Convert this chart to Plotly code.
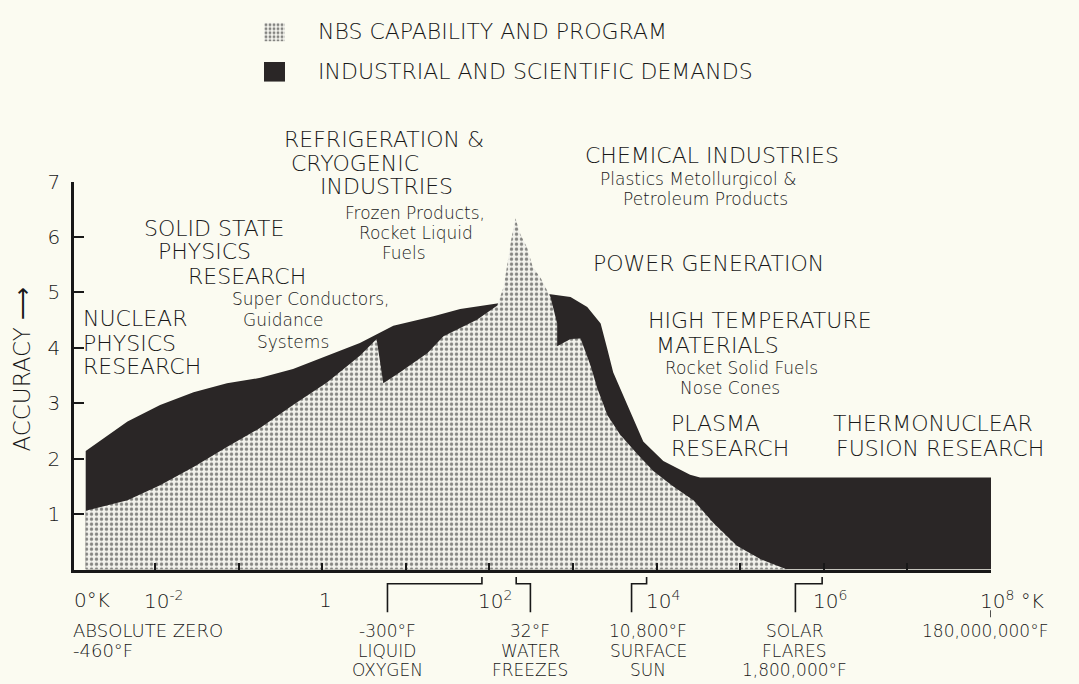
import plotly.graph_objects as go

# ---------------- data (x = log10 of temperature in K, y = accuracy) ----------------
demand_logk = [-2.83, -2.33, -1.94, -1.54, -1.14, -0.74, -0.35, 0.06, 0.45, 0.85,
               1.33, 1.65, 2.09, 2.73, 2.97, 3.17, 3.33, 3.41, 3.48, 3.65,
               3.84, 4.08, 4.40, 4.52, 8.0]
demand_acc = [2.14, 2.67, 2.97, 3.20, 3.36, 3.46, 3.62, 3.86, 4.09, 4.40,
              4.57, 4.70, 4.80, 4.97, 4.92, 4.74, 4.44, 3.98, 3.56, 2.97,
              2.31, 1.96, 1.71, 1.66, 1.66]

nbs_logk = [-2.83, -2.33, -1.94, -1.54, -1.14, -0.74, -0.35, 0.06, 0.45, 0.65,
            0.73, 0.93, 1.26, 1.45, 1.85, 2.09, 2.17, 2.21, 2.26, 2.31,
            2.37, 2.45, 2.52, 2.61, 2.73, 2.81, 2.81, 2.97, 3.09, 3.21,
            3.29, 3.41, 3.56, 3.77, 3.96, 4.20, 4.44, 4.68, 4.96, 5.24, 5.56]
nbs_acc = [1.06, 1.25, 1.52, 1.85, 2.21, 2.56, 2.97, 3.38, 3.86, 4.16,
           3.36, 3.56, 3.91, 4.21, 4.51, 4.76, 5.10, 5.51, 5.95, 6.34,
           6.05, 5.81, 5.45, 5.27, 4.92, 4.44, 4.03, 4.16, 4.17, 3.68,
           3.27, 2.79, 2.44, 2.08, 1.78, 1.50, 1.25, 0.84, 0.43, 0.19, 0.0]

y_ticks = [1, 2, 3, 4, 5, 6, 7]
decade_ticks = [-2, -1, 0, 1, 2, 3, 4, 5, 6, 7, 8]

# labelled decades on the temperature axis: (log10 K, text)
x_labels = [(-2.97, "0°K"), (-2, "10<sup>-2</sup>"), (0, "1"), (2, "10<sup>2</sup>"),
            (4, "10<sup>4</sup>"), (6, "10<sup>6</sup>"), (8, "10<sup>8</sup> °K")]

# reference temperatures marked under the axis (log10 K) and their captions
event_logk = [1.91, 2.32, 3.88, 5.98, 8.0]
event_lines = [["-300°F", "LIQUID", "OXYGEN"], ["32°F", "WATER", "FREEZES"],
               ["10,800°F", "SURFACE", "SUN"], ["SOLAR", "FLARES", "1,800,000°F"],
               ["180,000,000°F"]]
event_label_logk = [0.78, 2.49, 3.90, 5.65, 7.93]   # caption centres
bracket_logk = [0.78, 2.49, 3.70, 5.66]             # where the leader drops

legend_items = ["NBS CAPABILITY AND PROGRAM", "INDUSTRIAL AND SCIENTIFIC DEMANDS"]

# ---------------- styling ----------------
W, H = 1079, 684
BG = "#fbfbf1"
DARK = "#2a2626"
INK = "#181818"
FONT = "DejaVu Sans"
WEIGHT = 300
STIP_BG = "#f2f2ec"
STIP_FG = "#151515"

X0, X1 = 74, 991          # window pixel span of the temperature axis
YB, YT = 567.5, 172.7     # window pixel rows of accuracy 0 and 7


def px(x):
    return x / W


def py(y):
    return 1 - y / H


def f(size):
    return dict(family=FONT, size=size, color=INK, weight=WEIGHT)


fig = go.Figure()

fig.add_trace(go.Scatter(
    x=demand_logk, y=demand_acc, mode="lines", fill="tozeroy",
    fillcolor=DARK, line=dict(width=0, color=DARK), hoverinfo="skip",
    showlegend=False))

fig.add_trace(go.Scatter(
    x=nbs_logk, y=nbs_acc, mode="lines", fill="tozeroy",
    fillcolor=STIP_BG,
    fillpattern=dict(shape=".", bgcolor=STIP_BG, fgcolor=STIP_FG,
                     size=5, solidity=0.36),
    line=dict(width=0, color="#555"), hoverinfo="skip", showlegend=False))

# arrowheads under the axis
fig.add_trace(go.Scatter(
    x=event_logk, y=[-0.08] * len(event_logk), mode="markers",
    marker=dict(symbol="triangle-up", size=8, color=INK),
    cliponaxis=False, hoverinfo="skip", showlegend=False))

# legend swatches on their own tiny axes
fig.add_trace(go.Scatter(
    x=[0, 1, 1, 0, 0], y=[0, 0, 1, 1, 0], mode="lines", fill="toself",
    fillcolor=STIP_BG,
    fillpattern=dict(shape=".", bgcolor=STIP_BG, fgcolor=STIP_FG,
                     size=4, solidity=0.4),
    line=dict(width=0), xaxis="x2", yaxis="y2", hoverinfo="skip",
    showlegend=False))
fig.add_trace(go.Scatter(
    x=[0, 1, 1, 0, 0], y=[0, 0, 1, 1, 0], mode="lines", fill="toself",
    fillcolor=DARK, line=dict(width=0), xaxis="x3", yaxis="y3",
    hoverinfo="skip", showlegend=False))

ann = []


def txt(s, x, y, size, anchor="center", angle=0):
    ann.append(dict(text=s, x=px(x), y=py(y), xref="paper", yref="paper",
                    xanchor=anchor, yanchor="middle", showarrow=False,
                    textangle=angle, font=f(size)))


# legend text
txt(legend_items[0], 316, 20, 22, "left")
txt(legend_items[1], 316, 61, 22, "left")

BIG, SMALL = 22, 17
# category labels
txt("REFRIGERATION &amp;", 384, 130, BIG)
txt("CRYOGENIC", 355, 154, BIG)
txt("INDUSTRIES", 386, 178, BIG)
txt("Frozen Products,", 415, 205, SMALL)
txt("Rocket Liquid", 416, 225, SMALL)
txt("Fuels", 404, 245, SMALL)

txt("SOLID STATE", 214, 220, BIG)
txt("PHYSICS", 205, 244, BIG)
txt("RESEARCH", 247, 269, BIG)
txt("Super Conductors,", 310, 292, SMALL)
txt("Guidance", 283, 314, SMALL)
txt("Systems", 293, 336, SMALL)

txt("NUCLEAR", 81, 312, BIG, "left")
txt("PHYSICS", 81, 337, BIG, "left")
txt("RESEARCH", 81, 361, BIG, "left")

txt("CHEMICAL INDUSTRIES", 712, 146, BIG)
txt("Plastics Metollurgicol &amp;", 698, 170, SMALL)
txt("Petroleum Products", 705, 190, SMALL)

txt("POWER GENERATION", 708, 256, BIG)

txt("HIGH TEMPERATURE", 760, 314, BIG)
txt("MATERIALS", 717, 339, BIG)
txt("Rocket Solid Fuels", 741, 362, SMALL)
txt("Nose Cones", 730, 383, SMALL)

txt("PLASMA", 669, 419, BIG, "left")
txt("RESEARCH", 669, 444, BIG, "left")
txt("THERMONUCLEAR", 831, 419, BIG, "left")
txt("FUSION RESEARCH", 834, 444, BIG, "left")

# y axis title
txt("ACCURACY ⟶", 22, 364, 23, angle=-90)

# x axis labels (placed through the data axis)
for lx, s in x_labels:
    if lx == -2.97:
        shift = -2
    elif s == "1":
        shift = -5
    else:
        shift = -13
    ann.append(dict(text=s, x=lx, y=py(598), xref="x", yref="paper",
                    xanchor="left", yanchor="middle", showarrow=False,
                    xshift=shift, font=f(20)))

# absolute zero caption
ROWS = [630, 650, 670]
txt("ABSOLUTE ZERO", 71, ROWS[0], 18, "left")
txt("-460°F", 71, ROWS[1], 18, "left")

# event captions, one annotation per line
for lx, lines in zip(event_label_logk, event_lines):
    for row, s in zip(ROWS, lines):
        ann.append(dict(text=s, x=lx, y=py(row), xref="x", yref="paper",
                        xanchor="center", yanchor="middle", showarrow=False,
                        font=f(17)))

shapes = []
# leaders from captions to the axis
for ex, bx in zip(event_logk[:4], bracket_logk):
    shapes.append(dict(type="path", xref="x", yref="paper",
                       path=f"M {bx},{py(611)} L {bx},{py(582)} L {ex},{py(582)} L {ex},{py(575)}",
                       line=dict(color=INK, width=1.6)))
# small tick under 10^8
shapes.append(dict(type="line", xref="x", yref="paper", x0=8.0, x1=8.0,
                   y0=py(609), y1=py(616), line=dict(color=INK, width=1.5)))

fig.update_layout(
    width=W, height=H,
    margin=dict(l=0, r=0, t=0, b=0),
    paper_bgcolor=BG, plot_bgcolor=BG,
    annotations=ann, shapes=shapes,
    xaxis=dict(domain=[px(X0), px(X1)], range=[-2.97, 8.0], showgrid=False,
               zeroline=False, showline=True, linecolor=INK, linewidth=2.5,
               ticks="inside", ticklen=7, tickwidth=2, tickcolor=INK,
               tickvals=decade_ticks, showticklabels=False),
    yaxis=dict(domain=[py(YB), py(YT)], range=[0, 7], showgrid=False,
               zeroline=False, showline=True, linecolor=INK, linewidth=2.5,
               ticks="inside", ticklen=10, tickwidth=2, tickcolor=INK,
               tickvals=y_ticks, ticklabelstandoff=7, tickfont=f(20)),
    xaxis2=dict(domain=[px(264), px(285)], range=[0, 1], visible=False,
                fixedrange=True),
    yaxis2=dict(domain=[py(30), py(11)], range=[0, 1], visible=False,
                anchor="x2", fixedrange=True),
    xaxis3=dict(domain=[px(264), px(285)], range=[0, 1], visible=False,
                fixedrange=True),
    yaxis3=dict(domain=[py(71), py(51)], range=[0, 1], visible=False,
                anchor="x3", fixedrange=True),
)
fig.data[3].update(xaxis="x2", yaxis="y2")
fig.data[4].update(xaxis="x3", yaxis="y3")

fig.write_html(
    "out.html",
    config={"displayModeBar": False},
    post_script=("document.body.style.margin='0';"
                 "document.body.style.overflow='hidden';"
                 "document.body.style.background='#fbfbf1';"))
